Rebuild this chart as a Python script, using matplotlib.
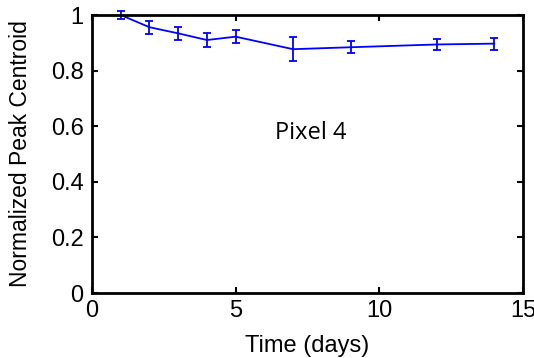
import matplotlib
matplotlib.use("Agg")
import matplotlib.pyplot as plt

days = [1, 2, 3, 4, 5, 7, 9, 12, 14]
centroid = [1.0, 0.956, 0.934, 0.910, 0.922, 0.877, 0.884, 0.894, 0.897]
errors = [0.015, 0.023, 0.023, 0.024, 0.023, 0.044, 0.021, 0.021, 0.022]
xticks = [0, 5, 10, 15]
yticks = [0, 0.2, 0.4, 0.6, 0.8, 1]
yticklabels = ["0", "0.2", "0.4", "0.6", "0.8", "1"]

plt.rcParams['font.family'] = ['Liberation Sans', 'DejaVu Sans']
fig = plt.figure(figsize=(5.34, 3.58), dpi=100)
ax = fig.add_axes([92/534, 1-293/358, (523-92)/534, (293-15)/358])
ax.errorbar(days, centroid, yerr=errors, color='#0000ff', lw=1.3,
            capsize=3, capthick=1.3, elinewidth=1.3, clip_on=False)
ax.set_xlim(0, 15)
ax.set_ylim(0, 1)
ax.set_xticks(xticks)
ax.set_yticks(yticks)
ax.set_yticklabels(yticklabels)
ax.tick_params(direction='in', top=True, right=True, labelsize=17, length=4, width=1.5)
ax.tick_params(axis='x', pad=5)
ax.tick_params(axis='y', pad=6)
for s in ax.spines.values():
    s.set_linewidth(2)
ax.set_xlabel("Time (days)", fontsize=17)
ax.xaxis.set_label_coords(0.5, -0.15)
ax.set_ylabel("Normalized Peak Centroid", fontsize=16.5)
ax.yaxis.set_label_coords(-0.139, 0.5)
ax.text(7.6, 0.575, "Pixel 4", fontsize=17, family=['Open Sans', 'DejaVu Sans'],
        ha='center', va='center')
fig.savefig("out.png", dpi=100)
